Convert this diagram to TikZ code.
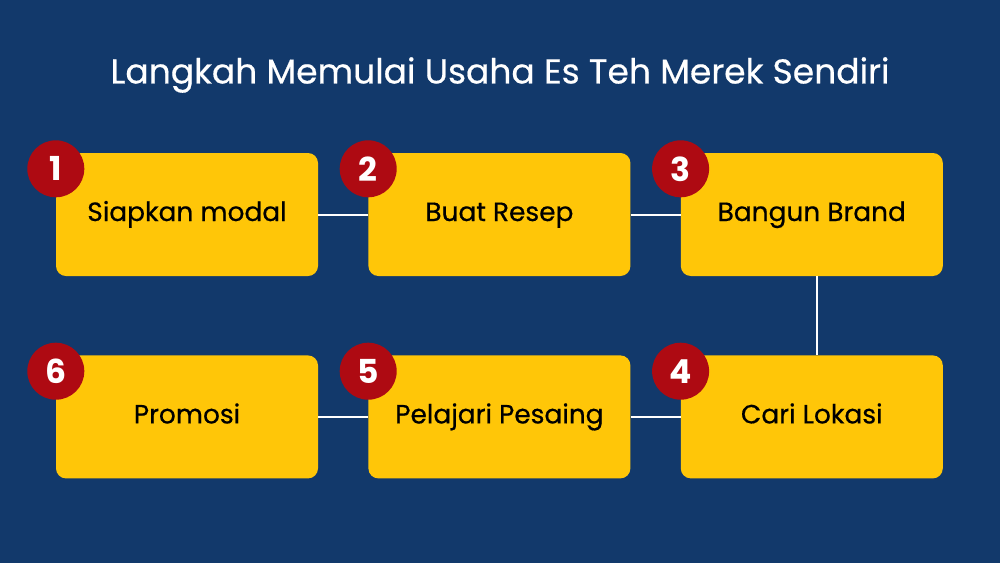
\documentclass[tikz,border=0pt]{standalone}
\usepackage{fontspec}
\setmainfont{Poppins}
\newfontfamily\medfont{Poppins}[FakeBold=0.5]
\usetikzlibrary{positioning}
\definecolor{bgblue}{HTML}{12396B}
\definecolor{stepyellow}{HTML}{FFC608}
\definecolor{numred}{HTML}{AE0A12}

\begin{document}
\begin{tikzpicture}[x=1pt,y=1pt,node distance=79pt and 50pt,
        box node/.style={fill=stepyellow,rounded corners=10pt,minimum width=262pt,
            minimum height=123pt,inner sep=0pt,text height=18.5pt,text depth=5.5pt,
            font=\medfont\fontsize{26.4}{30}\selectfont},
        num node/.style={circle,fill=numred,text=white,minimum size=57pt,inner sep=0pt,
            font=\fontsize{33}{36}\selectfont\bfseries},
        link/.style={draw=white,line width=2pt}]

        % Background and title
        \fill[bgblue] (0,0) rectangle (1000,-563);
        \useasboundingbox (0,0) rectangle (1000,-563);
        \node[text=white,font=\medfont\fontsize{34.5}{40}\selectfont] (title) at (500,-75)
            {Langkah Memulai Usaha Es Teh Merek Sendiri};

        % Define steps
        \node[box node] (b1) at (187,-214.5) {Siapkan modal};
        \node[box node] (b2) [right=of b1] {Buat Resep};
        \node[box node] (b3) [right=of b2] {Bangun Brand};
        \node[box node] (b4) [below=of b3] {Cari Lokasi};
        \node[box node] (b5) [left=of b4] {Pelajari Pesaing};
        \node[box node] (b6) [left=of b5] {Promosi};

        % Draw links
        \path[link]
            (b1) edge (b2)
            (b2) edge (b3)
            (b4) edge (b5)
            (b5) edge (b6);
        \draw[link] ([xshift=5pt]b3.south) -- ([xshift=5pt]b4.north);

        % Number badges
        \foreach \i in {1,...,6}
            \node[num node] (n\i) at ([yshift=-16pt]b\i.north west) {\i};

\end{tikzpicture}
\end{document}
